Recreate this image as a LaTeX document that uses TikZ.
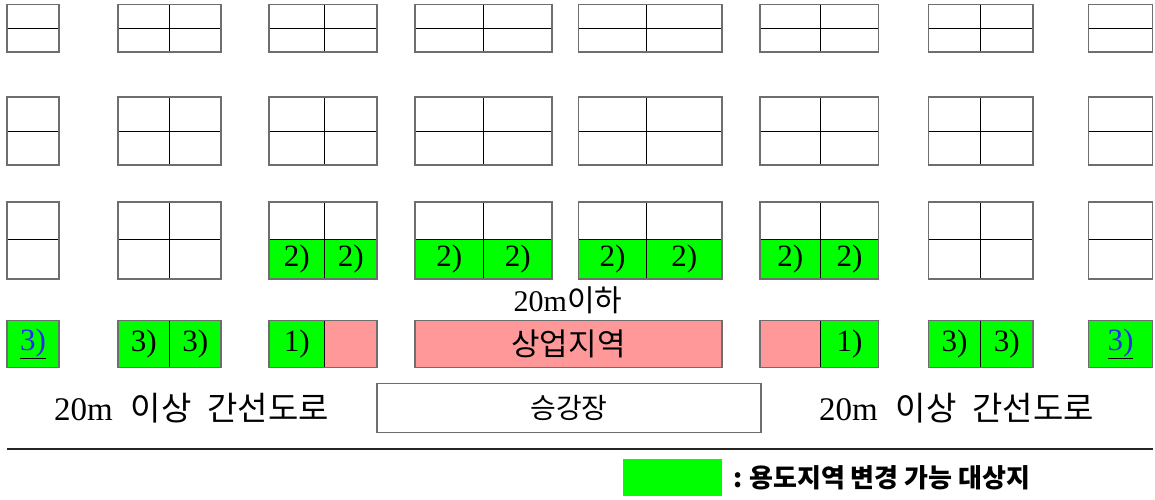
\documentclass[tikz,border=0pt]{standalone}
\usepackage{fontspec}
\setmainfont{Liberation Serif}
\newfontfamily\kr{Noto Sans CJK KR}
\definecolor{grn}{HTML}{00FF00}
\definecolor{pnk}{HTML}{FF9999}
\definecolor{edge}{HTML}{6E6E6E}
\definecolor{lnk}{HTML}{2A2AEE}
\tikzset{
  inner/.style={draw=black,line width=0.9pt},
  outer/.style={draw=edge,line width=1.3pt},
  lbl/.style={font=\fontsize{31}{33}\selectfont,inner sep=0pt},
  txt/.style={inner sep=0pt},
}
\newcommand{\lnkthree}{\underline{\textcolor{lnk}{3)}}}
\begin{document}
\begin{tikzpicture}[x=1pt,y=-1pt]
\useasboundingbox (0,0) rectangle (1155,499);
% ---- row 3 green fills
\foreach \a/\b/\c [count=\i] in {269/324.5/377, 415/483.5/552, 578.5/646.5/722, 760/820.5/878.5}{
  \fill[grn] (\a,239.5) rectangle (\c,279);
  \node[lbl] (r3-\i a) at ({(\a+\b)/2},259.5) {2)};
  \node[lbl] (r3-\i b) at ({(\b+\c)/2},259.5) {2)};
}
% ---- rows 1-3 blocks
\foreach \t/\m/\u in {4.7/28.3/52, 97/131/165, 202/239.5/279}{
  \foreach \a/\b/\c in {118/169.5/221, 269/324.5/377, 415/483.5/552, 578.5/646.5/722, 760/820.5/878.5, 928.5/980.5/1033}{
    \draw[inner] (\a,\m) -- (\c,\m);
    \draw[inner] (\b,\t) -- (\b,\u);
    \draw[outer] (\a,\t) rectangle (\c,\u);
  }
  \foreach \a/\c in {7/59, 1088.5/1152.5}{
    \draw[inner] (\a,\m) -- (\c,\m);
    \draw[outer] (\a,\t) rectangle (\c,\u);
  }
}
% ---- row 4
\fill[grn] (7,320.5) rectangle (59,367.5);
\node[lbl] (c1) at (33,344) {\lnkthree};
\fill[grn] (118,320.5) rectangle (221,367.5);
\node[lbl] (c2a) at (143.75,344) {3)};
\node[lbl] (c2b) at (195.25,344) {3)};
\fill[grn] (269,320.5) rectangle (324.5,367.5);
\fill[pnk] (324.5,320.5) rectangle (377,367.5);
\node[lbl] (c3a) at (296.75,344) {1)};
\fill[pnk] (415,320.5) rectangle (722,367.5);
\node[txt,font=\kr\fontsize{31}{33}\selectfont] (cz) at (568.5,344) {상업지역};
\fill[pnk] (760,320.5) rectangle (820.5,367.5);
\fill[grn] (820.5,320.5) rectangle (878.5,367.5);
\node[lbl] (c6b) at (849.5,344) {1)};
\fill[grn] (928.5,320.5) rectangle (1033,367.5);
\node[lbl] (c7a) at (954.5,344) {3)};
\node[lbl] (c7b) at (1006.75,344) {3)};
\fill[grn] (1088.5,320.5) rectangle (1152.5,367.5);
\node[lbl] (c8) at (1120.5,344) {\lnkthree};
\foreach \a/\b/\c in {118/169.5/221, 269/324.5/377, 760/820.5/878.5, 928.5/980.5/1033}{
  \draw[inner] (\b,320.5) -- (\b,367.5);
  \draw[outer] (\a,320.5) rectangle (\c,367.5);
}
\foreach \a/\c in {7/59, 415/722, 1088.5/1152.5}{
  \draw[outer] (\a,320.5) rectangle (\c,367.5);
}
% ---- texts
\node[txt,font=\fontsize{30}{32}\selectfont] (lim) at (568,300) {20m{\kr 이하}};
\node[txt,font=\fontsize{33}{36}\selectfont] (roadl) at (191.5,408) {20m\hspace{18pt}{\kr 이상}\hspace{16pt}{\kr 간선도로}};
\node[txt,font=\fontsize{33}{36}\selectfont] (roadr) at (956.5,408) {20m\hspace{18pt}{\kr 이상}\hspace{16pt}{\kr 간선도로}};
\node[draw=edge,line width=1.3pt,minimum width=384pt,minimum height=49pt,inner sep=0pt,font=\kr\fontsize{28}{30}\selectfont] (stn) at (569,408) {승강장};
\coordinate (la) at (7,449);
\coordinate (lb) at (1153,449);
\draw[line width=1.4pt,draw=black!85] (la) -- (lb);
\fill[grn] (623,459) rectangle (722,495.5);
\node[txt,anchor=west,font=\kr\bfseries\fontsize{26}{28}\selectfont] (leg) at (733,477.5) {:\hspace{7pt}용도지역 변경 가능 대상지};
\end{tikzpicture}
\end{document}
